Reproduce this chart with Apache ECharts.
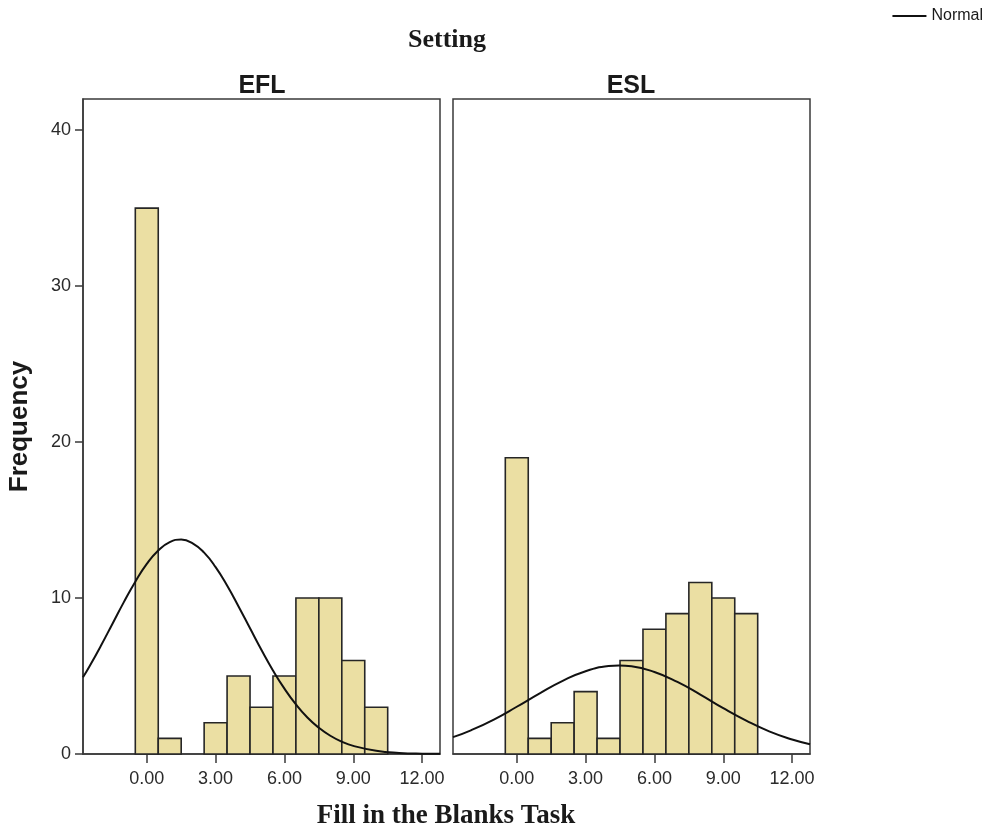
<!DOCTYPE html>
<html>
<head>
<meta charset="utf-8">
<script src="https://cdn.jsdelivr.net/npm/echarts@6/dist/echarts.min.js"></script>
<style>
  html, body { margin: 0; padding: 0; background: #fff; }
  #chart { width: 992px; height: 835px; }
</style>
</head>
<body>
<div id="chart"></div>
<script>
// Histogram bins (score, bin width 1) and frequencies per setting
const binCenters = [0, 1, 2, 3, 4, 5, 6, 7, 8, 9, 10];
const eflCounts  = [35, 1, 0, 2, 5, 3, 5, 10, 10, 6, 3];
const eslCounts  = [19, 1, 2, 4, 1, 6, 8, 9, 11, 10, 9];

// Normal curve overlays, sampled along the score axis
const eflCurveX = [-2.78, -2.5, -2, -1.5, -1, -0.5, 0, 0.5, 1, 1.5, 2, 2.5, 3, 3.5, 4, 4.5, 5, 5.5, 6, 6.5, 7, 7.5, 8, 8.5, 9, 10, 11, 12, 12.78];
const eflCurveY = [4.92, 5.61, 6.94, 8.34, 9.74, 11.05, 12.19, 13.05, 13.59, 13.75, 13.51, 12.91, 11.98, 10.80, 9.46, 8.06, 6.67, 5.36, 4.19, 3.18, 2.34, 1.68, 1.17, 0.79, 0.52, 0.21, 0.07, 0.02, 0.01];
const eslCurveX = [-2.78, -2, -1, 0, 1, 2, 3, 4, 4.45, 5, 6, 7, 8, 9, 10, 11, 12, 12.78];
const eslCurveY = [1.08, 1.52, 2.21, 3.03, 3.89, 4.69, 5.31, 5.64, 5.68, 5.63, 5.26, 4.62, 3.81, 2.94, 2.14, 1.45, 0.93, 0.63];

// Axis settings
const xTickValues = [0, 3, 6, 9, 12];
const yTickValues = [0, 10, 20, 30, 40];
const panelNames = ['EFL', 'ESL'];
const xRange = [-2.78, 12.78];
const yRange = [0, 42];

const barFill = '#EBDFA3';
const inkColor = '#262626';
const sansFont = '"Liberation Sans", Arial, sans-serif';
const serifFont = '"Liberation Serif", "Times New Roman", serif';

const pairs = (xs, ys) => xs.map((x, i) => [x, ys[i]]);

function renderBin(params, api) {
  const center = api.value(0);
  const count = api.value(1);
  if (!count) return null;
  const topLeft = api.coord([center - 0.5, count]);
  const bottomRight = api.coord([center + 0.5, 0]);
  return {
    type: 'rect',
    shape: {
      x: topLeft[0],
      y: topLeft[1],
      width: bottomRight[0] - topLeft[0],
      height: bottomRight[1] - topLeft[1]
    },
    style: { fill: barFill, stroke: inkColor, lineWidth: 1.6 }
  };
}

const panelLeft = [83, 453];
const grids = panelLeft.map(left => ({
  left: left, top: 99, width: 357, height: 655,
  show: true, borderColor: '#3a3a3a', borderWidth: 1.5, backgroundColor: '#fff'
}));

const xAxes = [0, 1].map(i => ({
  type: 'value', gridIndex: i, min: xRange[0], max: xRange[1],
  splitLine: { show: false },
  axisLine: { show: true, onZero: false, lineStyle: { color: '#3a3a3a', width: 1.5 } },
  axisTick: { show: true, customValues: xTickValues, length: 9, lineStyle: { color: '#3a3a3a', width: 1.5 } },
  axisLabel: {
    show: true, customValues: xTickValues, margin: 16,
    formatter: v => v.toFixed(2),
    fontFamily: sansFont, fontSize: 18, color: '#2a2a2a'
  }
}));

const yAxes = [0, 1].map(i => ({
  type: 'value', gridIndex: i, min: yRange[0], max: yRange[1],
  splitLine: { show: false },
  axisLine: { show: i === 0, onZero: false, lineStyle: { color: '#3a3a3a', width: 1.5 } },
  axisTick: { show: i === 0, customValues: yTickValues, length: 8, lineStyle: { color: '#3a3a3a', width: 1.5 } },
  axisLabel: {
    show: i === 0, customValues: yTickValues, margin: 12,
    fontFamily: sansFont, fontSize: 18, color: '#2a2a2a'
  },
  name: i === 0 ? 'Frequency' : '',
  nameLocation: 'middle', nameRotate: 90, nameGap: 50,
  nameTextStyle: { fontFamily: sansFont, fontSize: 26, fontWeight: 'bold', color: '#1a1a1a' }
}));

const countsByPanel = [eflCounts, eslCounts];
const curvesByPanel = [pairs(eflCurveX, eflCurveY), pairs(eslCurveX, eslCurveY)];

const series = [];
[0, 1].forEach(i => {
  series.push({
    type: 'custom', name: panelNames[i] + ' bins',
    xAxisIndex: i, yAxisIndex: i,
    renderItem: renderBin,
    encode: { x: 0, y: 1 },
    data: pairs(binCenters, countsByPanel[i]),
    z: 2
  });
  series.push({
    type: 'line', name: 'Normal',
    xAxisIndex: i, yAxisIndex: i,
    data: curvesByPanel[i],
    smooth: true, showSymbol: false, symbol: 'none',
    lineStyle: { color: '#111', width: 2 },
    itemStyle: { color: '#111' },
    clip: true, z: 3, silent: true
  });
});

const chart = echarts.init(document.getElementById('chart'));
chart.setOption({
  animation: false,
  backgroundColor: '#fff',
  grid: grids,
  xAxis: xAxes,
  yAxis: yAxes,
  legend: {
    data: ['Normal'], right: 4, top: 3,
    icon: 'rect', itemWidth: 34, itemHeight: 2, itemGap: 6,
    textStyle: { fontFamily: sansFont, fontSize: 16, color: '#1a1a1a' }
  },
  graphic: [
    { type: 'text', x: 447, y: 40, style: { text: 'Setting', fontFamily: serifFont, fontWeight: 'bold', fontSize: 26, fill: '#1a1a1a', align: 'center', verticalAlign: 'middle' } },
    { type: 'text', x: 262, y: 86, style: { text: panelNames[0], fontFamily: sansFont, fontWeight: 'bold', fontSize: 25, fill: '#1a1a1a', align: 'center', verticalAlign: 'middle' } },
    { type: 'text', x: 631, y: 86, style: { text: panelNames[1], fontFamily: sansFont, fontWeight: 'bold', fontSize: 25, fill: '#1a1a1a', align: 'center', verticalAlign: 'middle' } },
    { type: 'text', x: 446, y: 816, style: { text: 'Fill in the Blanks Task', fontFamily: serifFont, fontWeight: 'bold', fontSize: 27, fill: '#1a1a1a', align: 'center', verticalAlign: 'middle' } }
  ],
  series: series
});
</script>
</body>
</html>
